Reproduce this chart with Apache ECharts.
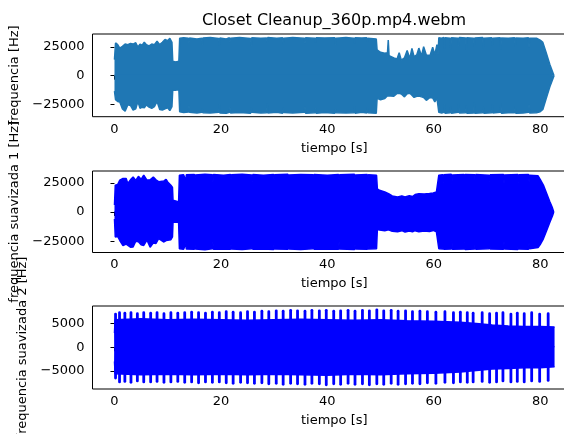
<!DOCTYPE html>
<html>
<head>
<meta charset="utf-8">
<script src="https://cdn.jsdelivr.net/npm/echarts@6/dist/echarts.min.js"></script>
<style>
html, body { margin: 0; padding: 0; background: #fff; }
#chart { width: 564px; height: 434px; }
</style>
</head>
<body>
<div id="chart"></div>
<script>
// Waveform envelopes of the audio track, in Hz, against time in seconds.
const chartTitle = 'Closet Cleanup_360p.mp4.webm';
const xLabel = 'tiempo [s]';
const yLabels = ['frequencia [Hz]', 'frequencia suavizada 1 [Hz]', 'frequencia suavizada 2 [Hz]'];
const xTicks = [0, 20, 40, 60, 80];
const yTicksWide = [-25000, 0, 25000];
const yTicksNarrow = [-5000, 0, 5000];

// Raw signal: upper / lower envelope
const time1 = [
  0, 0.2, 0.6, 1.0, 1.5, 2.0, 2.5, 3.0, 3.5, 4.0,
  4.4, 4.8, 5.2, 5.6, 6.0, 6.5, 7.0, 7.5, 8.0, 8.5,
  9.0, 9.5, 10.0, 10.4, 10.8, 10.95, 11.5, 12.1, 12.25, 13.0,
  13.9, 14.0, 14.1, 15.5, 16.4, 16.5, 16.6, 18.0, 19.6, 19.7,
  19.8, 21.0, 21.6, 21.7, 21.8, 23.5, 25.6, 25.7, 25.8, 27.5,
  28.6, 28.7, 28.8, 30.5, 31.6, 31.7, 31.8, 33.5, 35.7, 35.8,
  35.9, 37.7, 37.8, 37.9, 39.5, 41.4, 41.5, 41.6, 43.5, 45.0,
  45.1, 45.2, 46.5, 47.4, 47.5, 47.6, 49.2, 49.35, 50.0, 50.8,
  51.3, 51.45, 51.6, 52.5, 53.1, 53.5, 53.9, 54.5, 55.0, 55.5,
  55.9, 56.3, 56.8, 57.2, 57.7, 58.1, 58.6, 59.3, 59.8, 60.2,
  60.6, 60.8, 60.95, 61.5, 61.9, 62.0, 62.1, 63.1, 63.2, 63.3,
  64.6, 64.7, 64.8, 66.0, 66.1, 66.2, 67.5, 67.6, 67.7, 69.2,
  69.3, 69.4, 70.9, 71.0, 71.1, 72.5, 72.6, 72.7, 74.0, 75.2,
  75.3, 75.4, 76.8, 77.8, 77.9, 78.0, 79.3, 80.0, 80.5, 81.1,
  81.8, 82.6
];
const upper1 = [
  14000, 28500, 27000, 24000, 25500, 27500, 27000, 28000, 27500, 28700,
  25000, 27500, 26500, 29200, 27000, 26000, 27500, 27000, 30000, 27000,
  29000, 31500, 30500, 32500, 29000, 12500, 12000, 12500, 32600, 33000,
  32600, 28500, 32800, 32000, 32600, 27000, 32800, 33200, 32400, 26500,
  32800, 32000, 33000, 29000, 32600, 33200, 32400, 26000, 33000, 32600,
  32800, 28500, 33200, 32500, 33000, 27500, 32600, 33200, 32600, 28000,
  33000, 32500, 29000, 33000, 32800, 33000, 27000, 32500, 33200, 32600,
  28000, 33000, 32800, 33000, 29500, 32600, 32000, 22400, 20300, 19500,
  20000, 31000, 17500, 15500, 14500, 20000, 13500, 15500, 22000, 15000,
  23800, 16500, 18000, 24000, 17200, 25300, 18000, 17500, 24800, 18200,
  27000, 18500, 33000, 32600, 33200, 24000, 33000, 32500, 23000, 33000,
  32600, 26000, 33200, 32800, 22500, 33000, 32600, 25000, 32800, 33200,
  24000, 32600, 33000, 26500, 32700, 33000, 23000, 32800, 32600, 33000,
  25000, 32800, 32500, 33000, 24500, 32600, 32600, 31000, 29000, 20500,
  10000, 0
];
const lower1 = [
  -13500, -21000, -22500, -23000, -29000, -31000, -25500, -26000, -30000, -29000,
  -22500, -28500, -27500, -28000, -25500, -27500, -28500, -27000, -22500, -29500,
  -30000, -29000, -28000, -30500, -27000, -12500, -12800, -12000, -31500, -32200,
  -31800, -26000, -32000, -32600, -32000, -29000, -32300, -32600, -32000, -25000,
  -32500, -32800, -32000, -27500, -32600, -32200, -32800, -28000, -32000, -32600,
  -32300, -24500, -32600, -32000, -32800, -28000, -32200, -32600, -32000, -27000,
  -32700, -32400, -28500, -32800, -32200, -32700, -29500, -32400, -32600, -32300,
  -26500, -32800, -32000, -32600, -27500, -32300, -32800, -19800, -21000, -20000,
  -17500, -17000, -16800, -18000, -15600, -15400, -16000, -18500, -15800, -15400,
  -17000, -19000, -18000, -17800, -18500, -19000, -21500, -19000, -19500, -23000,
  -19500, -19800, -32000, -32500, -32000, -25000, -32700, -32300, -27000, -32800,
  -32000, -24000, -32600, -32300, -26000, -32800, -32500, -23500, -32700, -32300,
  -27000, -32800, -32300, -25500, -32600, -32000, -24000, -32700, -32400, -32300,
  -26500, -32800, -32500, -32000, -25000, -32600, -32300, -31500, -29500, -20500,
  -10000, 0
];

// First smoothing: upper / lower envelope
const time2 = [
  0, 0.15, 0.6, 1.0, 1.6, 2.2, 2.5, 3.0, 3.5, 4.0,
  4.5, 5.0, 5.5, 6.1, 6.7, 7.3, 7.8, 8.3, 8.6, 9.3,
  9.7, 10.0, 10.6, 10.9, 11.0, 11.5, 12.05, 12.2, 13.0, 13.3,
  13.4, 13.5, 15.0, 15.1, 15.2, 17.0, 18.4, 18.5, 18.6, 20.5,
  21.8, 21.9, 22.0, 24.0, 25.8, 25.9, 26.0, 28.0, 29.9, 30.0,
  30.1, 32.6, 32.7, 32.8, 35.0, 37.3, 37.4, 37.5, 40.0, 42.1,
  42.2, 42.3, 45.1, 45.2, 45.3, 47.5, 47.6, 47.7, 49.25, 49.4,
  49.8, 50.8, 51.5, 52.2, 53.2, 54.0, 54.6, 55.4, 56.0, 56.5,
  57.2, 58.2, 59.2, 59.9, 60.5, 60.85, 60.95, 61.7, 61.8, 61.9,
  63.3, 63.4, 63.5, 65.7, 65.8, 65.9, 67.7, 67.8, 67.9, 70.4,
  70.5, 70.6, 73.1, 73.2, 73.3, 75.8, 75.9, 76.0, 77.8, 77.9,
  78.0, 79.6, 80.0, 80.6, 81.2, 81.8, 82.3, 82.55
];
const upper2 = [
  6000, 23000, 23500, 27300, 28700, 28700, 24400, 27500, 30000, 27000,
  30500, 28000, 31600, 27300, 27500, 30000, 27500, 26000, 24300, 26600,
  28000, 25700, 22900, 21000, 10000, 9500, 8600, 31400, 32000, 31500,
  26500, 31800, 32200, 27000, 31600, 32300, 31800, 25500, 32000, 31500,
  32200, 27500, 31800, 32300, 31700, 26000, 32000, 31500, 32200, 27000,
  31800, 32300, 28000, 31600, 32000, 31800, 26500, 32200, 31500, 32000,
  27500, 31800, 32300, 28500, 31700, 32000, 27000, 31800, 31500, 19800,
  18600, 17100, 15700, 13700, 12900, 13800, 12800, 14000, 13200, 14900,
  15700, 15400, 15800, 16300, 17100, 17500, 31500, 32000, 25000, 31800,
  32300, 24000, 31600, 32000, 25500, 32200, 31800, 23500, 32000, 31500,
  26000, 31800, 32200, 24500, 31600, 32000, 25000, 31800, 32200, 26000,
  31500, 31000, 28000, 23000, 16000, 9000, 3500, 0
];
const lower2 = [
  -6000, -21500, -21000, -24400, -28700, -27500, -26000, -30200, -30000, -25000,
  -25500, -28000, -28700, -24000, -30200, -26500, -27000, -22900, -24500, -25700,
  -24500, -24000, -23700, -21400, -8600, -8700, -8800, -31500, -32000, -31500,
  -27000, -31800, -32000, -26500, -31600, -32300, -31500, -26000, -32000, -31600,
  -32000, -28000, -31800, -32200, -31500, -27000, -32000, -31800, -32200, -26500,
  -31800, -32000, -27500, -31600, -32200, -31500, -27000, -32000, -31600, -32000,
  -26000, -31800, -32200, -28000, -31600, -32000, -26500, -31800, -31500, -15000,
  -15500, -16000, -15200, -16500, -17000, -16000, -17200, -16300, -17000, -16000,
  -17000, -16200, -16800, -15800, -17000, -16500, -31500, -31800, -25500, -32000,
  -31600, -24500, -32000, -31800, -26000, -32200, -31600, -24000, -32000, -31500,
  -25500, -31800, -32000, -25000, -31600, -32200, -24500, -31800, -32000, -26500,
  -31500, -30500, -28000, -23000, -16000, -9000, -3500, 0
];

// Second smoothing: steady band plus periodic bursts
const time3 = [0, 0.12, 5, 10, 15, 20, 25, 30, 35, 40, 45, 50, 55, 60, 65, 68, 71, 74, 77, 80, 82.7];
const upper3 = [3000, 5800, 6000, 5800, 5900, 5800, 5700, 5800, 5900, 5800, 5700, 5800, 5600, 5500, 5300, 5000, 4700, 4500, 4400, 4400, 4300];
const lower3 = [-3000, -5600, -5800, -5700, -5800, -5700, -5800, -5700, -5800, -5900, -5700, -5800, -5600, -5500, -5200, -4900, -4600, -4500, -4300, -4300, -4100];
const burstTime3 = [
  0.2, 0.95, 1.95, 3.1, 4.3, 5.5, 6.8, 8.0, 9.3, 10.6,
  11.9, 13.2, 14.5, 15.8, 17.1, 18.4, 19.7, 21.0, 22.3, 23.7,
  25.0, 26.3, 27.7, 29.0, 30.4, 31.7, 33.1, 34.4, 35.8, 37.1,
  38.5, 39.8, 41.2, 42.5, 43.9, 45.2, 46.6, 47.9, 49.3, 50.6,
  52.0, 53.3, 54.7, 56.0, 57.4, 58.8, 60.4, 62.1, 63.7, 65.0,
  66.3, 67.4, 69.1, 70.5, 71.8, 73.0, 74.5, 75.7, 77.0, 78.4,
  79.9, 81.5
];
const burstHigh3 = [
  7000, 7300, 7200, 7300, 7100, 7300, 7200, 7300, 7100, 7300,
  7200, 7300, 7400, 7300, 7200, 7400, 7300, 7500, 7400, 7300,
  7500, 7400, 7600, 7500, 7700, 7600, 7800, 7700, 7600, 7800,
  7700, 7800, 7600, 7700, 7800, 7600, 7800, 7700, 7900, 7700,
  7800, 7600, 7700, 7500, 7600, 7500, 7400, 7500, 7300, 7400,
  7300, 7200, 7300, 7100, 7200, 7300, 7000, 7200, 7100, 7300,
  7000, 7100
];
const burstLow3 = [
  -6500, -7300, -7200, -7400, -7100, -7300, -7300, -7200, -7400, -7300,
  -7200, -7400, -7300, -7500, -7300, -7400, -7300, -7500, -7600, -7400,
  -7500, -7600, -7500, -7700, -7600, -7800, -7600, -7700, -7800, -7600,
  -7700, -7900, -7700, -7800, -7600, -7800, -7700, -7900, -7700, -7800,
  -7600, -7800, -7700, -7600, -7700, -7500, -7600, -7400, -7500, -7300,
  -7400, -7300, -7200, -7400, -7300, -7100, -7300, -7200, -7300, -7100,
  -7200, -7000
];

const FONT = 'DejaVu Sans';
const pairs = (xs, ys) => xs.map((x, i) => [x, ys[i]]);
const fmt = v => (v < 0 ? '\u2212' + Math.abs(v) : String(v));

function xAxisFor(i) {
  return {
    type: 'value', gridIndex: i, min: -4.13, max: 86.73,
    name: xLabel, nameLocation: 'middle', nameGap: 25,
    nameTextStyle: { fontFamily: FONT, fontSize: 13, color: '#000' },
    axisLine: { show: false }, splitLine: { show: false },
    axisTick: { show: true, customValues: xTicks, length: 4, lineStyle: { color: '#000', width: 1 } },
    axisLabel: { customValues: xTicks, margin: 6, fontFamily: FONT, fontSize: 13, color: '#000', formatter: fmt }
  };
}
function yAxisFor(i, min, max, ticks, gap) {
  return {
    type: 'value', gridIndex: i, min: min, max: max,
    name: yLabels[i], nameLocation: 'middle', nameRotate: 90, nameGap: gap,
    nameTextStyle: { fontFamily: FONT, fontSize: 13, color: '#000' },
    axisLine: { show: false }, splitLine: { show: false },
    axisTick: { show: true, customValues: ticks, length: 4, lineStyle: { color: '#000', width: 1 } },
    axisLabel: { customValues: ticks, margin: 8, fontFamily: FONT, fontSize: 13, color: '#000', formatter: fmt }
  };
}
// Upper half fills down to zero; lower half fills up past zero so the two halves overlap.
function band(i, xs, ys, color, origin) {
  return {
    type: 'line', xAxisIndex: i, yAxisIndex: i, data: pairs(xs, ys),
    symbol: 'none', showSymbol: false, clip: true, silent: true,
    lineStyle: { color: color, width: 1.5 },
    areaStyle: { color: color, opacity: 1, origin: origin }
  };
}

const gridBase = { left: 92.5, right: -12, show: true, borderColor: '#000', borderWidth: 1, backgroundColor: 'transparent', containLabel: false, outerBoundsMode: 'none' };

const chart = echarts.init(document.getElementById('chart'), null, { renderer: 'canvas' });
chart.setOption({
  animation: false,
  backgroundColor: '#fff',
  title: {
    text: chartTitle, left: 334, top: 13, textAlign: 'center', padding: 0,
    textStyle: { fontFamily: FONT, fontSize: 16, fontWeight: 'normal', color: '#000' }
  },
  grid: [
    Object.assign({ top: 34, height: 82.7 }, gridBase),
    Object.assign({ top: 171, height: 81.5 }, gridBase),
    Object.assign({ top: 306, height: 83 }, gridBase)
  ],
  xAxis: [xAxisFor(0), xAxisFor(1), xAxisFor(2)],
  yAxis: [
    yAxisFor(0, -35800, 36300, yTicksWide, 66),
    yAxisFor(1, -34700, 35100, yTicksWide, 66),
    yAxisFor(2, -8800, 8710, yTicksNarrow, 58)
  ],
  series: [
    band(0, time1, upper1, '#1f77b4', 0),
    band(0, time1, lower1, '#1f77b4', 900),
    band(1, time2, upper2, '#0000ff', 0),
    band(1, time2, lower2, '#0000ff', 900),
    band(2, time3, upper3, '#0000ff', 0),
    band(2, time3, lower3, '#0000ff', 200),
    {
      type: 'custom', xAxisIndex: 2, yAxisIndex: 2, clip: true, silent: true,
      data: burstTime3.map((t, i) => [t, burstHigh3[i], burstLow3[i]]),
      encode: { x: 0, y: [1, 2] },
      renderItem: function (params, api) {
        const a = api.coord([api.value(0), api.value(1)]);
        const b = api.coord([api.value(0), api.value(2)]);
        return {
          type: 'line',
          shape: { x1: a[0], y1: a[1], x2: b[0], y2: b[1] },
          style: { stroke: '#0000ff', lineWidth: 2.8, lineCap: 'round' }
        };
      }
    }
  ]
});
</script>
</body>
</html>
